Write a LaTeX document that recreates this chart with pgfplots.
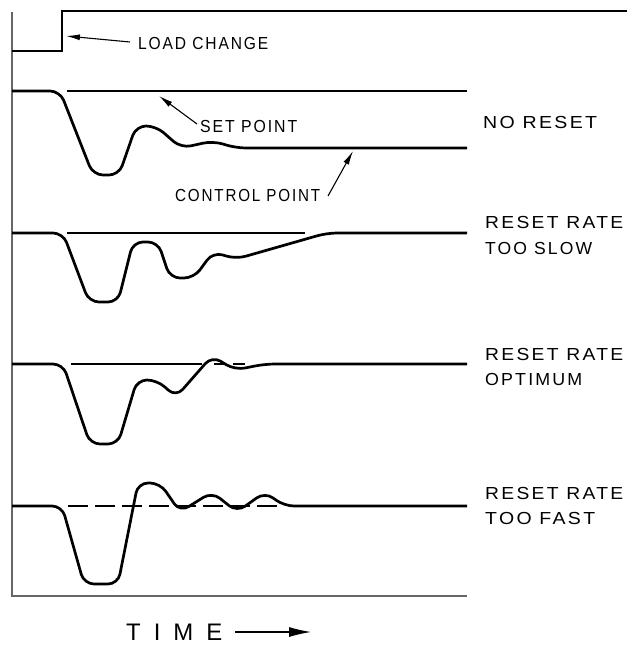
\documentclass[border=0pt]{standalone}
\usepackage{fontspec}
\setmainfont{Liberation Sans}
\usepackage{graphicx}
\usepackage{pgfplots}
\pgfplotsset{compat=1.18}
\usetikzlibrary{arrows.meta}

\newcommand{\lab}{\fontsize{17.5}{20}\selectfont\addfontfeature{LetterSpace=12}}
% label stretched to the width it has in the drawing
\newcommand{\lbl}[2]{\resizebox{#1bp}{\height}{\lab #2}}

\begin{document}
\begin{tikzpicture}
  \begin{axis}[
      scale only axis,
      width=627bp, height=647bp,
      xmin=0, xmax=627, ymin=0, ymax=647,
      y dir=reverse,
      hide axis,
      clip=false,
      curve/.style={black, line width=2.7bp, rounded corners=10pt},
      setpt/.style={black, line width=2bp},
      pointer/.style={black, line width=1.1bp, -{Latex[length=14pt,width=6pt]}},
    ]
    \tikzset{lb/.style={anchor=west, inner sep=0pt}}
    % keeps the page the size of the reference
    \addplot[draw=none] coordinates {(0,0) (627,647)};

    % frame
    \addplot[gray!80!black, line width=1.3bp] coordinates {(12,12) (12,596) (467,596)};

    % load change step
    \addplot[black, line width=2.7bp] coordinates {(12,51) (62,51) (62,11) (627,11)};

    % no reset
    \addplot[setpt] coordinates {(67,91) (467,91)};
    \addplot[curve] coordinates {(12,91) (60,91) (93,175) (119,175) (136,126) (156,126) (181,148) (213,141) (236,148) (467,148)};

    % reset rate too slow
    \addplot[setpt] coordinates {(67,233) (305,233)};
    \addplot[curve] coordinates {(12,233) (63,233) (89,302) (118,302) (133,242) (158,242) (170,278) (194,278) (213,252) (236,259) (327,233) (467,233)};

    % reset rate optimum
    \addplot[setpt] coordinates {(71,364) (202,364)};
    \addplot[setpt] coordinates {(214,364) (225,364)};
    \addplot[setpt] coordinates {(233,364) (245,364)};
    \addplot[curve] coordinates {(12,364) (63,364) (90,444) (118,444) (137,380) (157,380) (176,397) (212,356) (235,370) (265,364) (467,364)};

    % reset rate too fast
    \addplot[setpt, dash pattern=on 20bp off 7bp] coordinates {(68,506) (283,506)};
    \addplot[curve] coordinates {(12,506) (62,506) (84,584) (118,584) (138,483) (160,483) (180,512) (212,492) (237,512) (265,492) (284,506) (467,506)};

    % pointers
    \addplot[pointer] coordinates {(130,42) (66,36)};
    \addplot[pointer] coordinates {(197,124) (159,96)};
    \addplot[pointer] coordinates {(328,196) (353,151)};
    \addplot[black, line width=1.1bp, -{Latex[length=22pt,width=10pt]}] coordinates {(235,632) (311,632)};

    % labels
    \node[lb] at (axis cs:138,43) {\lbl{130}{LOAD CHANGE}};
    \node[lb] at (axis cs:200,126) {\lbl{97}{SET POINT}};
    \node[lb] at (axis cs:175,195) {\lbl{145}{CONTROL POINT}};
    \node[lb] at (axis cs:483,122) {\lbl{114}{NO RESET}};
    \node[lb] at (axis cs:485,222) {\lbl{138}{RESET RATE}};
    \node[lb] at (axis cs:485,248) {\lbl{107}{TOO SLOW}};
    \node[lb] at (axis cs:485,354) {\lbl{138}{RESET RATE}};
    \node[lb] at (axis cs:485,379) {\lbl{97}{OPTIMUM}};
    \node[lb] at (axis cs:485,493) {\lbl{138}{RESET RATE}};
    \node[lb] at (axis cs:485,518) {\lbl{110}{TOO FAST}};
    \node[lb, font=\fontsize{24}{26}\selectfont] at (axis cs:126,632)
      {T\hspace{13bp}I\hspace{13bp}M\hspace{13bp}E};
  \end{axis}
\end{tikzpicture}
\end{document}
